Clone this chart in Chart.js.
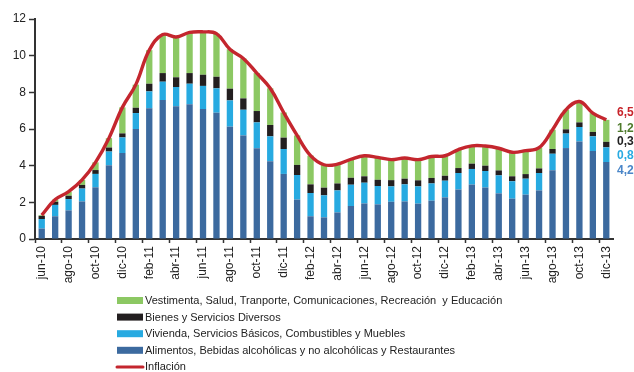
<!DOCTYPE html>
<html>
<head>
<meta charset="utf-8">
<script src="https://cdn.jsdelivr.net/npm/chart.js@4/dist/chart.umd.min.js"></script>
<style>
  html, body { margin: 0; padding: 0; background: #fff; }
  #wrap { width: 634px; height: 372px; }
</style>
</head>
<body>
<div id="wrap"><canvas id="myChart" width="634" height="372"></canvas></div>
<script>
// Months jun-10 .. dic-13
const meses = [
  'jun-10','jul-10','ago-10','sep-10','oct-10','nov-10','dic-10',
  'ene-11','feb-11','mar-11','abr-11','may-11','jun-11','jul-11','ago-11','sep-11','oct-11','nov-11','dic-11',
  'ene-12','feb-12','mar-12','abr-12','may-12','jun-12','jul-12','ago-12','sep-12','oct-12','nov-12','dic-12',
  'ene-13','feb-13','mar-13','abr-13','may-13','jun-13','jul-13','ago-13','sep-13','oct-13','nov-13','dic-13'
];

// Incidencia por grupo (puntos porcentuales)
const alimentos = [
  0.57, 1.24, 1.56, 2.05, 2.82, 4.02, 4.69,
  6.00, 7.13, 7.58, 7.24, 7.35, 7.09, 6.89, 6.13, 5.65, 4.95, 4.24, 3.55,
  2.15, 1.24, 1.18, 1.45, 1.80, 1.94, 1.89, 2.03, 2.05, 1.93, 2.09, 2.27,
  2.70, 2.97, 2.81, 2.49, 2.20, 2.42, 2.65, 3.75, 4.96, 5.32, 4.80, 4.20
];
const vivienda = [
  0.52, 0.62, 0.62, 0.70, 0.73, 0.75, 0.85,
  0.87, 0.92, 1.00, 1.05, 1.12, 1.26, 1.33, 1.43, 1.40, 1.41, 1.36, 1.36,
  1.34, 1.27, 1.20, 1.20, 1.16, 1.13, 1.00, 0.84, 0.93, 0.94, 0.94, 0.91,
  0.90, 0.85, 0.90, 0.98, 0.95, 0.87, 0.95, 0.90, 0.79, 0.79, 0.80, 0.80
];
const bienes = [
  0.17, 0.17, 0.18, 0.20, 0.21, 0.22, 0.22,
  0.29, 0.42, 0.47, 0.53, 0.58, 0.61, 0.63, 0.64, 0.62, 0.62, 0.62, 0.62,
  0.55, 0.47, 0.42, 0.38, 0.38, 0.35, 0.34, 0.34, 0.31, 0.33, 0.30, 0.27,
  0.27, 0.29, 0.29, 0.27, 0.27, 0.25, 0.25, 0.26, 0.23, 0.25, 0.24, 0.30
];
const vestimenta = [
  0.04, 0.12, 0.22, 0.27, 0.42, 0.51, 1.42,
  1.26, 1.83, 2.10, 2.20, 2.22, 2.34, 2.35, 2.15, 2.18, 2.07, 2.00, 1.37,
  1.61, 1.57, 1.25, 1.05, 1.01, 1.12, 1.22, 1.12, 1.13, 1.13, 1.17, 1.09,
  1.01, 0.97, 1.07, 1.21, 1.31, 1.28, 1.13, 1.05, 1.07, 1.14, 1.03, 1.20
];
// Inflación a 12 meses (%)
const inflacion = [
  1.30, 2.15, 2.58, 3.22, 4.18, 5.50, 7.18,
  8.42, 10.30, 11.15, 11.02, 11.27, 11.30, 11.20, 10.35, 9.85, 9.05, 8.22, 6.90,
  5.65, 4.55, 4.05, 4.08, 4.35, 4.54, 4.45, 4.33, 4.42, 4.33, 4.50, 4.54,
  4.88, 5.08, 5.07, 4.95, 4.73, 4.82, 4.98, 5.96, 7.05, 7.50, 6.87, 6.50
];

const FONT = '"Liberation Sans", Arial, sans-serif';
const INK = '#222';
const AXIS = '#333';

const colores = {
  alimentos: '#3c6a9f',
  vivienda: '#27aae1',
  bienes: '#231f20',
  vestimenta: '#8cc863',
  inflacion: '#c4262e'
};

const fmt = v => v.toFixed(1).replace('.', ',');

// legend drawn as a single column under the axis
const legendaPlugin = {
  id: 'legenda',
  afterDraw(chart) {
    const ctx = chart.ctx;
    const ds = chart.data.datasets;
    const orden = [3, 2, 1, 0, 4];
    const x0 = 117, y0 = 300.5, paso = 16.6;
    ctx.save();
    ctx.font = '11px ' + FONT;
    ctx.textBaseline = 'middle';
    orden.forEach((i, k) => {
      const y = y0 + k * paso;
      const d = ds[i];
      if (d.type === 'line') {
        ctx.strokeStyle = d.borderColor;
        ctx.lineWidth = 3;
        ctx.lineCap = 'round';
        ctx.beginPath();
        ctx.moveTo(x0, y);
        ctx.lineTo(x0 + 26, y);
        ctx.stroke();
      } else {
        ctx.fillStyle = d.backgroundColor;
        ctx.fillRect(x0, y - 3.5, 26, 7);
      }
      ctx.fillStyle = INK;
      ctx.fillText(d.label, x0 + 28, y + 0.5);
    });
    ctx.restore();
  }
};

// latest values written at the right end of the series
const ultimosPlugin = {
  id: 'ultimos',
  afterDraw(chart) {
    const ctx = chart.ctx;
    const n = meses.length - 1;
    const x = chart.chartArea.right + 4;
    const filas = [
      { v: inflacion[n], c: '#c8242b', y: 113 },
      { v: vestimenta[n], c: '#4f7b2c', y: 129 },
      { v: bienes[n], c: '#222222', y: 142 },
      { v: vivienda[n], c: '#29abe2', y: 156 },
      { v: alimentos[n], c: '#4a86c8', y: 171 }
    ];
    ctx.save();
    ctx.font = 'bold 12px ' + FONT;
    ctx.textBaseline = 'middle';
    filas.forEach(f => {
      ctx.fillStyle = f.c;
      ctx.fillText(fmt(f.v), x, f.y);
    });
    ctx.restore();
  }
};

const barra = (label, data, color) => ({
  type: 'bar',
  label: label,
  data: data,
  backgroundColor: color,
  stack: 'grupos',
  order: 1,
  barPercentage: 0.47,
  categoryPercentage: 1
});

const data = {
  labels: meses,
  datasets: [
    barra('Alimentos, Bebidas alcohólicas y no alcohólicas y Restaurantes', alimentos, colores.alimentos),
    barra('Vivienda, Servicios Básicos, Combustibles y Muebles', vivienda, colores.vivienda),
    barra('Bienes y Servicios Diversos', bienes, colores.bienes),
    barra('Vestimenta, Salud, Tranporte, Comunicaciones, Recreación  y Educación', vestimenta, colores.vestimenta),
    {
      type: 'line',
      label: 'Inflación',
      data: inflacion,
      borderColor: colores.inflacion,
      backgroundColor: colores.inflacion,
      borderWidth: 3.4,
      borderJoinStyle: 'round',
      pointRadius: 0,
      tension: 0.4,
      stack: 'linea',
      order: 0
    }
  ]
};

const config = {
  data: data,
  options: {
    responsive: false,
    animation: false,
    layout: { padding: { top: 19, right: 21, left: 0, bottom: 0 } },
    plugins: {
      legend: { display: false },
      tooltip: { enabled: false }
    },
    scales: {
      x: {
        stacked: true,
        offset: true,
        afterFit: s => { s.height = 133; },
        border: { color: AXIS, width: 2 },
        grid: {
          offset: true,
          drawOnChartArea: false,
          tickLength: 4,
          tickWidth: 1.5,
          tickColor: c => (c.index % 2 === 0 ? AXIS : 'rgba(0,0,0,0)')
        },
        ticks: {
          autoSkip: false,
          minRotation: 90,
          maxRotation: 90,
          padding: 3,
          color: INK,
          font: { family: FONT, size: 12 },
          callback: (v, i) => (i % 2 === 0 ? meses[i] : '')
        }
      },
      y: {
        stacked: true,
        min: 0,
        max: 12,
        afterFit: s => { s.width = 35; },
        border: { color: AXIS, width: 2 },
        grid: {
          drawOnChartArea: false,
          tickLength: 6,
          tickWidth: 1.5,
          tickColor: AXIS
        },
        ticks: {
          stepSize: 2,
          padding: 3,
          color: INK,
          font: { family: FONT, size: 12 }
        }
      }
    }
  },
  plugins: [legendaPlugin, ultimosPlugin]
};

const ctx = document.getElementById('myChart').getContext('2d');
const grafico = new Chart(ctx, config);
</script>
</body>
</html>
